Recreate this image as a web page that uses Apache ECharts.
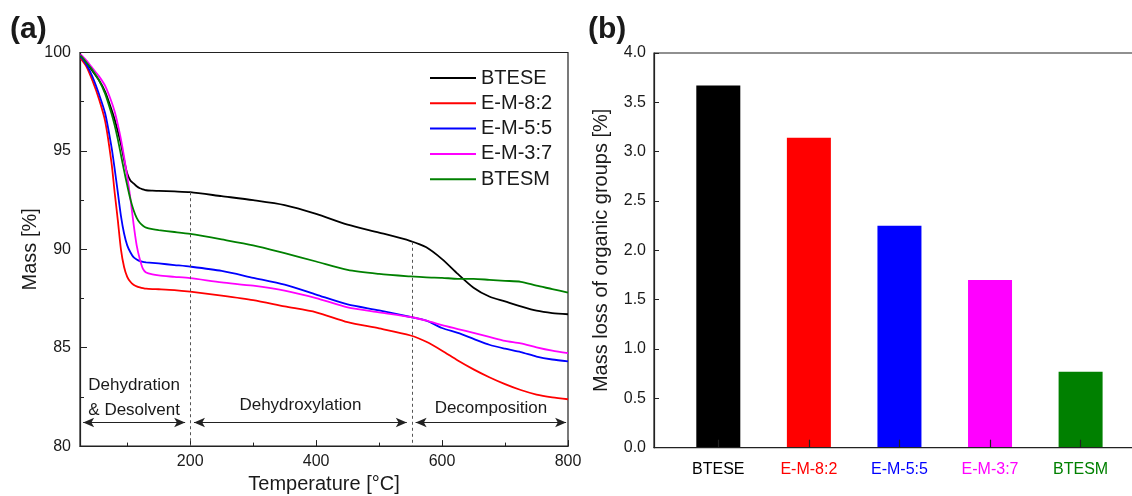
<!DOCTYPE html>
<html>
<head>
<meta charset="utf-8">
<script src="https://cdn.jsdelivr.net/npm/echarts@6/dist/echarts.min.js"></script>
<style>
  html, body { margin: 0; padding: 0; background: #fff; }
  #chart { width: 1132px; height: 496px; }
</style>
</head>
<body>
<div id="chart"></div>
<script>
/* ── Data ───────────────────────────────────────────────── */
const temps = [26, 35, 45, 55, 65, 75, 80, 85, 90, 95, 100, 105, 110, 115, 120, 125, 130, 140, 150, 175,
  200, 250, 300, 350, 400, 450, 500, 550, 575, 600, 625, 650, 675, 700, 725, 750, 775, 800];

const massBTESE = [99.85, 99.5, 99.05, 98.6, 98.0, 97.1, 96.6, 96.0, 95.35, 94.55, 93.85, 93.5, 93.35, 93.2, 93.1, 93.05, 93.0, 92.98, 92.97, 92.94,
  92.9, 92.7, 92.5, 92.25, 91.8, 91.25, 90.85, 90.42, 90.1, 89.5, 88.75, 88.05, 87.6, 87.35, 87.1, 86.88, 86.76, 86.7];
const massEM82 = [99.7, 99.3, 98.55, 97.65, 96.5, 94.4, 92.9, 91.5, 90.0, 89.1, 88.6, 88.35, 88.2, 88.12, 88.07, 88.03, 88.0, 87.98, 87.97, 87.93,
  87.85, 87.65, 87.42, 87.1, 86.8, 86.3, 85.98, 85.62, 85.3, 84.85, 84.35, 83.9, 83.5, 83.15, 82.85, 82.62, 82.48, 82.38];
const massEM55 = [99.8, 99.4, 98.75, 97.9, 96.9, 95.2, 94.1, 92.9, 91.7, 90.8, 90.2, 89.85, 89.6, 89.48, 89.4, 89.36, 89.34, 89.31, 89.28, 89.2,
  89.12, 88.9, 88.55, 88.2, 87.7, 87.2, 86.9, 86.56, 86.38, 86.0, 85.75, 85.45, 85.15, 84.95, 84.78, 84.55, 84.4, 84.3];
const massEM37 = [99.9, 99.6, 99.2, 98.8, 98.3, 97.5, 97.0, 96.35, 95.6, 94.7, 93.7, 92.6, 91.3, 90.2, 89.5, 89.0, 88.82, 88.72, 88.67, 88.6,
  88.53, 88.32, 88.15, 87.9, 87.52, 87.05, 86.8, 86.56, 86.38, 86.15, 85.95, 85.75, 85.55, 85.35, 85.22, 85.02, 84.85, 84.72];
const massBTESM = [99.85, 99.5, 99.1, 98.6, 97.9, 96.9, 96.3, 95.6, 94.8, 94.0, 93.25, 92.55, 92.0, 91.6, 91.35, 91.2, 91.1, 91.02, 90.97, 90.88,
  90.78, 90.5, 90.2, 89.8, 89.38, 88.95, 88.75, 88.62, 88.57, 88.55, 88.5, 88.5, 88.45, 88.4, 88.35, 88.15, 87.98, 87.8];

const seriesNames = ['BTESE', 'E-M-8:2', 'E-M-5:5', 'E-M-3:7', 'BTESM'];
const seriesMass = [massBTESE, massEM82, massEM55, massEM37, massBTESM];
const palette = ['#000000', '#ff0000', '#0000ff', '#ff00ff', '#008000'];

// stage boundaries and arrows
const boundaryTemps = [200, 553];
const regionNames = ['Dehydration\n& Desolvent', 'Dehydroxylation', 'Decomposition'];
const regionSpans = [[30, 192], [206, 544], [558, 797]];
const arrowLevel = 81.2;

// panel (b)
const barNames = ['BTESE', 'E-M-8:2', 'E-M-5:5', 'E-M-3:7', 'BTESM'];
const barValues = [3.67, 3.14, 2.25, 1.70, 0.77];
const barPositions = [1, 2, 3, 4, 5];

const xMajorTicks = [200, 400, 600, 800];
const xMinorTicks = [100, 300, 500, 700];

/* ── Helpers ────────────────────────────────────────────── */
const FONT = '"Liberation Sans", Arial, sans-serif';
const INK = '#1a1a1a';
const AXIS = '#222';

function massAt(arr, t) {
  for (let i = 0; i < temps.length - 1; i++) {
    if (t >= temps[i] && t <= temps[i + 1]) {
      const f = (t - temps[i]) / (temps[i + 1] - temps[i]);
      return arr[i] + f * (arr[i + 1] - arr[i]);
    }
  }
  return arr[arr.length - 1];
}

const labelDist = [0, 5, 2];

const lineSeries = seriesNames.map((name, k) => {
  const s = {
    name,
    type: 'line',
    xAxisIndex: 0,
    yAxisIndex: 0,
    symbol: 'none',
    smooth: 0.25,
    data: temps.map((t, i) => [t, seriesMass[k][i]]),
    lineStyle: { color: palette[k], width: 1.8 },
    itemStyle: { color: palette[k] },
    z: 3
  };
  if (k === 0) {
    s.markLine = {
      silent: true,
      symbol: 'none',
      label: { show: false },
      lineStyle: { color: '#555', type: [3, 3], width: 1 },
      data: boundaryTemps.map(t => [
        { coord: [t, massAt(massBTESE, t)] },
        { coord: [t, 80] }
      ])
    };
  }
  if (k === 1) {
    s.markLine = {
      silent: true,
      symbol: ['arrow', 'arrow'],
      symbolSize: [7, 11],
      lineStyle: { color: '#222', type: 'solid', width: 1 },
      data: regionSpans.map((sp, i) => [
        {
          coord: [sp[0], arrowLevel],
          label: {
            show: true,
            position: 'middle',
            formatter: regionNames[i],
            distance: labelDist[i],
            color: INK,
            fontSize: 17,
            lineHeight: 25,
            fontFamily: FONT,
            align: 'center'
          }
        },
        { coord: [sp[1], arrowLevel] }
      ])
    };
  }
  return s;
});

const barSeries = {
  type: 'bar',
  xAxisIndex: 2,
  yAxisIndex: 1,
  barWidth: 44,
  data: barValues.map((v, i) => ({ value: [barPositions[i], v], itemStyle: { color: palette[i] } })),
  z: 2
};

const labelRich = {};
palette.forEach((c, i) => { labelRich['c' + i] = { color: c, fontSize: 16, fontFamily: FONT }; });

/* ── Chart ──────────────────────────────────────────────── */
const chart = echarts.init(document.getElementById('chart'), null, { renderer: 'canvas' });

chart.setOption({
  animation: false,
  backgroundColor: '#fff',
  textStyle: { fontFamily: FONT, color: INK },
  title: [
    { text: '(a)', left: 5, top: 10, textStyle: { fontSize: 30, fontWeight: 'bold', color: INK, fontFamily: FONT } },
    { text: '(b)', left: 583, top: 10, textStyle: { fontSize: 30, fontWeight: 'bold', color: INK, fontFamily: FONT } }
  ],
  legend: {
    data: seriesNames,
    orient: 'vertical',
    left: 430,
    top: 68,
    padding: 0,
    icon: 'rect',
    itemWidth: 46,
    itemHeight: 2,
    itemGap: 5.3,
    textStyle: { fontSize: 20, color: INK, fontFamily: FONT }
  },
  grid: [
    { left: 80, top: 52.5, width: 488, height: 393.6, show: true, borderColor: AXIS, borderWidth: 1.2, backgroundColor: 'transparent', outerBoundsMode: 'none' },
    { left: 654, top: 53, width: 490, height: 394.7, show: true, borderColor: AXIS, borderWidth: 1.2, backgroundColor: 'transparent', outerBoundsMode: 'none' }
  ],
  xAxis: [
    {
      gridIndex: 0,
      type: 'value',
      min: 25,
      max: 800,
      name: 'Temperature [°C]',
      nameLocation: 'middle',
      nameGap: 20,
      nameTextStyle: { fontSize: 20, color: INK, fontFamily: FONT },
      axisLine: { show: true, lineStyle: { color: AXIS, width: 1.2 } },
      axisTick: { show: true, inside: true, length: 6, customValues: xMajorTicks, lineStyle: { color: AXIS } },
      axisLabel: { fontSize: 16, color: INK, margin: 7, customValues: xMajorTicks },
      splitLine: { show: false }
    },
    {
      // minor ticks only
      gridIndex: 0,
      type: 'value',
      position: 'bottom',
      min: 25,
      max: 800,
      axisLine: { show: false },
      axisTick: { show: true, inside: true, length: 3.5, customValues: xMinorTicks, lineStyle: { color: AXIS } },
      axisLabel: { show: false, customValues: xMinorTicks },
      splitLine: { show: false }
    },
    {
      gridIndex: 1,
      type: 'value',
      min: 0.29,
      max: 5.7,
      z: 5,
      axisLine: { show: true, lineStyle: { color: AXIS, width: 1.2 } },
      axisTick: { show: true, inside: true, length: 8, customValues: barPositions, lineStyle: { color: AXIS, width: 1.2 } },
      axisLabel: {
        customValues: barPositions,
        margin: 14,
        formatter: v => '{c' + (v - 1) + '|' + barNames[v - 1] + '}',
        rich: labelRich
      },
      splitLine: { show: false }
    }
  ],
  yAxis: [
    {
      gridIndex: 0,
      type: 'value',
      min: 80,
      max: 100,
      interval: 5,
      name: 'Mass [%]',
      nameLocation: 'middle',
      nameGap: 33,
      nameTextStyle: { fontSize: 20, color: INK, fontFamily: FONT },
      axisLine: { show: true, lineStyle: { color: AXIS, width: 1.2 } },
      axisTick: { show: true, inside: true, length: 7, lineStyle: { color: AXIS } },
      minorTick: { show: true, splitNumber: 2, length: 4, lineStyle: { color: AXIS } },
      axisLabel: { fontSize: 16, color: INK, margin: 9 },
      splitLine: { show: false }
    },
    {
      gridIndex: 1,
      type: 'value',
      min: 0,
      max: 4,
      interval: 0.5,
      name: 'Mass loss of organic groups [%]',
      nameLocation: 'middle',
      nameGap: 43,
      nameTextStyle: { fontSize: 20, color: INK, fontFamily: FONT },
      axisLine: { show: true, lineStyle: { color: AXIS, width: 1.2 } },
      axisTick: { show: true, inside: true, length: 5, lineStyle: { color: AXIS } },
      axisLabel: { fontSize: 16, color: INK, margin: 8, formatter: v => v.toFixed(1) },
      splitLine: { show: false }
    }
  ],
  series: [...lineSeries, barSeries]
});
</script>
</body>
</html>
